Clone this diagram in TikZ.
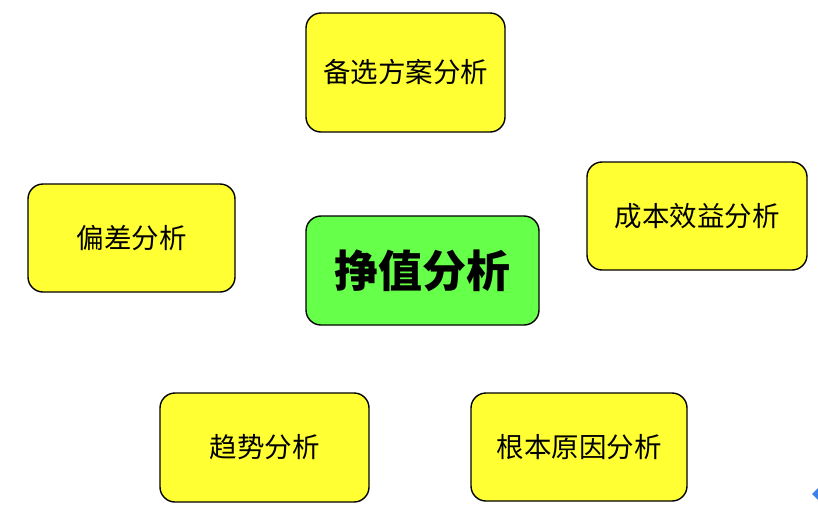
\documentclass[tikz,border=0pt]{standalone}
\usepackage{fontspec}
\newfontfamily\cjk{Noto Sans CJK SC}
\definecolor{boxyellow}{HTML}{FFFF33}
\definecolor{boxgreen}{HTML}{66FF4A}
\definecolor{tri}{HTML}{3A80E8}
\begin{document}
\begin{tikzpicture}[x=1pt,y=-1pt,
  basebox/.style={draw=black,line width=1.4pt,rounded corners=15pt,inner sep=0pt,text=black},
  ybox/.style={basebox,fill=boxyellow,font=\cjk\fontsize{27.5}{32}\selectfont},
  gbox/.style={basebox,fill=boxgreen,font=\cjk\bfseries\fontsize{44}{50}\selectfont}]
\useasboundingbox (0,0) rectangle (818,512);
\fill[white] (0,0) rectangle (818,512);
\node[ybox,minimum width=199pt,minimum height=119pt] (top) at (405.5,72.5) {备选方案分析};
\node[ybox,minimum width=207pt,minimum height=108pt] (left) at (131.5,238) {偏差分析};
\node[gbox,minimum width=233pt,minimum height=109pt] (center) at (422.5,270.5) {挣值分析};
\node[ybox,minimum width=220pt,minimum height=108pt] (right) at (697,216) {成本效益分析};
\node[ybox,minimum width=209pt,minimum height=109pt] (bl) at (264.5,447.5) {趋势分析};
\node[ybox,minimum width=216pt,minimum height=108pt] (br) at (579,447) {根本原因分析};
\fill[tri] (818,488) -- (812,494) -- (818,500) -- cycle;
\end{tikzpicture}
\end{document}
